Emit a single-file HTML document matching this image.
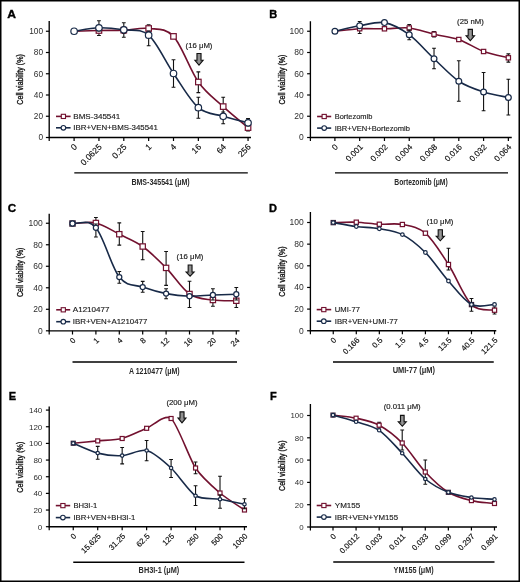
<!DOCTYPE html>
<html><head><meta charset="utf-8"><title>Cell viability</title>
<style>html,body{margin:0;padding:0;background:#fff;width:520px;height:582px;overflow:hidden}svg{display:block;opacity:0.999;will-change:transform;font-family:"Liberation Sans",sans-serif}</style>
</head><body>
<svg width="520" height="582" viewBox="0 0 520 582" font-family='&quot;Liberation Sans&quot;, sans-serif'>
<defs><linearGradient id="ag" x1="0" y1="0" x2="1" y2="0"><stop offset="0" stop-color="#4a4a4a"/><stop offset="0.5" stop-color="#9a9a9a"/><stop offset="1" stop-color="#4a4a4a"/></linearGradient></defs><rect width="520" height="582" fill="#fff"/>
<text x="7.2" y="18.4" font-size="11" textLength="8.7" lengthAdjust="spacingAndGlyphs" font-weight="bold" fill="#000" stroke="#000" stroke-width="0.35">A</text>
<path d="M49.2,21V137.5H251" stroke="#000" stroke-width="1.35" fill="none"/>
<path d="M45.9,137.5H49.2" stroke="#000" stroke-width="1.2"/>
<text x="43" y="140.3" font-size="8.3" text-anchor="end" fill="#2e2e2e">0</text>
<path d="M45.9,116.25H49.2" stroke="#000" stroke-width="1.2"/>
<text x="43" y="119.05" font-size="8.3" text-anchor="end" fill="#2e2e2e">20</text>
<path d="M45.9,95H49.2" stroke="#000" stroke-width="1.2"/>
<text x="43" y="97.8" font-size="8.3" text-anchor="end" fill="#2e2e2e">40</text>
<path d="M45.9,73.75H49.2" stroke="#000" stroke-width="1.2"/>
<text x="43" y="76.55" font-size="8.3" text-anchor="end" fill="#2e2e2e">60</text>
<path d="M45.9,52.5H49.2" stroke="#000" stroke-width="1.2"/>
<text x="43" y="55.3" font-size="8.3" text-anchor="end" fill="#2e2e2e">80</text>
<path d="M45.9,31.25H49.2" stroke="#000" stroke-width="1.2"/>
<text x="43" y="34.05" font-size="8.3" text-anchor="end" fill="#2e2e2e">100</text>
<text x="0" y="0" font-size="8.5" text-anchor="middle" textLength="50.5" lengthAdjust="spacingAndGlyphs" transform="translate(23.3,79.4) rotate(-90)" stroke="#222" stroke-width="0.35">Cell viability (%)</text>
<path d="M49.2,137.5v3.6M74.1,137.5v3.6M98.95,137.5v3.6M123.8,137.5v3.6M148.65,137.5v3.6M173.5,137.5v3.6M198.35,137.5v3.6M223.2,137.5v3.6M248.05,137.5v3.6" stroke="#000" stroke-width="1.2"/>
<text x="0" y="0" font-size="8.5" text-anchor="end" transform="translate(77.5,147.5) rotate(-45)" stroke="#222" stroke-width="0.15">0</text>
<text x="0" y="0" font-size="8.5" text-anchor="end" transform="translate(102.35,147.5) rotate(-45)" stroke="#222" stroke-width="0.15">0.0625</text>
<text x="0" y="0" font-size="8.5" text-anchor="end" transform="translate(127.2,147.5) rotate(-45)" stroke="#222" stroke-width="0.15">0.25</text>
<text x="0" y="0" font-size="8.5" text-anchor="end" transform="translate(152.05,147.5) rotate(-45)" stroke="#222" stroke-width="0.15">1</text>
<text x="0" y="0" font-size="8.5" text-anchor="end" transform="translate(176.9,147.5) rotate(-45)" stroke="#222" stroke-width="0.15">4</text>
<text x="0" y="0" font-size="8.5" text-anchor="end" transform="translate(201.75,147.5) rotate(-45)" stroke="#222" stroke-width="0.15">16</text>
<text x="0" y="0" font-size="8.5" text-anchor="end" transform="translate(226.6,147.5) rotate(-45)" stroke="#222" stroke-width="0.15">64</text>
<text x="0" y="0" font-size="8.5" text-anchor="end" transform="translate(251.45,147.5) rotate(-45)" stroke="#222" stroke-width="0.15">256</text>
<path d="M74.3,172.9H247.8" stroke="#000" stroke-width="1.4"/>
<text x="160.55" y="185.2" font-size="9.5" text-anchor="middle" textLength="58.3" lengthAdjust="spacingAndGlyphs" font-weight="bold" fill="#2a2a2a">BMS-345541 (μM)</text>
<text x="199" y="47.7" font-size="6.6" text-anchor="middle" textLength="26.9" lengthAdjust="spacingAndGlyphs" fill="#1a1a1a" stroke="#222" stroke-width="0.15">(16 μM)</text>
<path d="M196.95,53.4H201.05V60.3H203.15L199,65.1L194.85,60.3H196.95Z" fill="url(#ag)" stroke="#111" stroke-width="1.05" stroke-linejoin="miter"/>
<path d="M56,116.4H70.6" stroke="#72112f" stroke-width="1.6"/>
<rect x="61.3" y="114.3" width="4.2" height="4.2" fill="#fff" stroke="#72112f" stroke-width="1.1"/>
<text x="73.3" y="118.8" font-size="8" textLength="47" lengthAdjust="spacingAndGlyphs" fill="#1a1a1a" stroke="#1a1a1a" stroke-width="0.15">BMS-345541</text>
<path d="M56,127.8H70.6" stroke="#182a48" stroke-width="1.6"/>
<circle cx="63.4" cy="127.8" r="2.3" fill="#fff" stroke="#182a48" stroke-width="1.1"/>
<text x="73.3" y="130.2" font-size="8" textLength="84.6" lengthAdjust="spacingAndGlyphs" fill="#1a1a1a" stroke="#1a1a1a" stroke-width="0.15">IBR+VEN+BMS-345541</text>
<path d="M74.1,31.25 C78.24,31.12 90.67,30.68 98.95,30.5 C107.23,30.32 115.52,30.53 123.8,30.2 C132.08,29.87 140.37,27.47 148.65,28.5 C156.93,29.53 165.22,27.48 173.5,36.4 C181.78,45.32 190.07,70.3 198.35,82 C206.63,93.7 214.92,99 223.2,106.6 C231.48,114.2 243.91,124.1 248.05,127.6" stroke="#72112f" stroke-width="1.6" fill="none"/>
<path d="M98.95,27.5V35.5M97.05,27.5h3.8M97.05,35.5h3.8" stroke="#111" stroke-width="1.1" fill="none"/>
<path d="M123.8,27V33.5M121.9,27h3.8M121.9,33.5h3.8" stroke="#111" stroke-width="1.1" fill="none"/>
<path d="M148.65,24.7V32M146.75,24.7h3.8M146.75,32h3.8" stroke="#111" stroke-width="1.1" fill="none"/>
<path d="M198.35,71.9V92.6M196.45,71.9h3.8M196.45,92.6h3.8" stroke="#111" stroke-width="1.1" fill="none"/>
<path d="M223.2,97.3V116M221.3,97.3h3.8M221.3,116h3.8" stroke="#111" stroke-width="1.1" fill="none"/>
<path d="M248.05,118.5V131M246.15,118.5h3.8M246.15,131h3.8" stroke="#111" stroke-width="1.1" fill="none"/>
<rect x="96.2" y="27.75" width="5.5" height="5.5" fill="#fff" stroke="#72112f" stroke-width="1.2"/>
<rect x="121.05" y="27.45" width="5.5" height="5.5" fill="#fff" stroke="#72112f" stroke-width="1.2"/>
<rect x="145.9" y="25.75" width="5.5" height="5.5" fill="#fff" stroke="#72112f" stroke-width="1.2"/>
<rect x="170.75" y="33.65" width="5.5" height="5.5" fill="#fff" stroke="#72112f" stroke-width="1.2"/>
<rect x="195.6" y="79.25" width="5.5" height="5.5" fill="#fff" stroke="#72112f" stroke-width="1.2"/>
<rect x="220.45" y="103.85" width="5.5" height="5.5" fill="#fff" stroke="#72112f" stroke-width="1.2"/>
<rect x="245.3" y="124.85" width="5.5" height="5.5" fill="#fff" stroke="#72112f" stroke-width="1.2"/>
<path d="M74.1,31.25 C78.24,30.68 90.67,28.04 98.95,27.8 C107.23,27.56 115.52,28.57 123.8,29.8 C132.08,31.03 140.37,27.92 148.65,35.2 C156.93,42.48 165.22,61.42 173.5,73.5 C181.78,85.58 190.07,100.57 198.35,107.7 C206.63,114.83 214.92,113.78 223.2,116.3 C231.48,118.82 243.91,121.72 248.05,122.8" stroke="#182a48" stroke-width="1.6" fill="none"/>
<path d="M98.95,20.7V31M97.05,20.7h3.8M97.05,31h3.8" stroke="#111" stroke-width="1.1" fill="none"/>
<path d="M123.8,22.8V37.2M121.9,22.8h3.8M121.9,37.2h3.8" stroke="#111" stroke-width="1.1" fill="none"/>
<path d="M148.65,31V45.7M146.75,31h3.8M146.75,45.7h3.8" stroke="#111" stroke-width="1.1" fill="none"/>
<path d="M173.5,59.8V87.3M171.6,59.8h3.8M171.6,87.3h3.8" stroke="#111" stroke-width="1.1" fill="none"/>
<path d="M198.35,97.3V118.2M196.45,97.3h3.8M196.45,118.2h3.8" stroke="#111" stroke-width="1.1" fill="none"/>
<path d="M223.2,112V123.7M221.3,112h3.8M221.3,123.7h3.8" stroke="#111" stroke-width="1.1" fill="none"/>
<path d="M248.05,119V126M246.15,119h3.8M246.15,126h3.8" stroke="#111" stroke-width="1.1" fill="none"/>
<circle cx="74.1" cy="31.25" r="3.25" fill="#fff" stroke="#182a48" stroke-width="1.2"/>
<circle cx="98.95" cy="27.8" r="3.25" fill="#fff" stroke="#182a48" stroke-width="1.2"/>
<circle cx="123.8" cy="29.8" r="3.25" fill="#fff" stroke="#182a48" stroke-width="1.2"/>
<circle cx="148.65" cy="35.2" r="3.25" fill="#fff" stroke="#182a48" stroke-width="1.2"/>
<circle cx="173.5" cy="73.5" r="3.25" fill="#fff" stroke="#182a48" stroke-width="1.2"/>
<circle cx="198.35" cy="107.7" r="3.25" fill="#fff" stroke="#182a48" stroke-width="1.2"/>
<circle cx="223.2" cy="116.3" r="3.25" fill="#fff" stroke="#182a48" stroke-width="1.2"/>
<circle cx="248.05" cy="122.8" r="3.25" fill="#fff" stroke="#182a48" stroke-width="1.2"/>
<text x="269.3" y="18.4" font-size="11" font-weight="bold" fill="#000" stroke="#000" stroke-width="0.35">B</text>
<path d="M310.4,21.2V137.5H511.75" stroke="#000" stroke-width="1.35" fill="none"/>
<path d="M307.1,137.5H310.4" stroke="#000" stroke-width="1.2"/>
<text x="303.75" y="140.3" font-size="8.5" text-anchor="end" fill="#2e2e2e">0</text>
<path d="M307.1,116.25H310.4" stroke="#000" stroke-width="1.2"/>
<text x="303.75" y="119.05" font-size="8.5" text-anchor="end" fill="#2e2e2e">20</text>
<path d="M307.1,95H310.4" stroke="#000" stroke-width="1.2"/>
<text x="303.75" y="97.8" font-size="8.5" text-anchor="end" fill="#2e2e2e">40</text>
<path d="M307.1,73.75H310.4" stroke="#000" stroke-width="1.2"/>
<text x="303.75" y="76.55" font-size="8.5" text-anchor="end" fill="#2e2e2e">60</text>
<path d="M307.1,52.5H310.4" stroke="#000" stroke-width="1.2"/>
<text x="303.75" y="55.3" font-size="8.5" text-anchor="end" fill="#2e2e2e">80</text>
<path d="M307.1,31.25H310.4" stroke="#000" stroke-width="1.2"/>
<text x="303.75" y="34.05" font-size="8.5" text-anchor="end" fill="#2e2e2e">100</text>
<text x="0" y="0" font-size="8.5" text-anchor="middle" textLength="50" lengthAdjust="spacingAndGlyphs" transform="translate(284.5,79.6) rotate(-90)" stroke="#222" stroke-width="0.35">Cell viability (%)</text>
<path d="M310.4,137.5v3.6M334.9,137.5v3.6M359.68,137.5v3.6M384.46,137.5v3.6M409.24,137.5v3.6M434.02,137.5v3.6M458.8,137.5v3.6M483.58,137.5v3.6M508.36,137.5v3.6" stroke="#000" stroke-width="1.2"/>
<text x="0" y="0" font-size="8.2" text-anchor="end" transform="translate(338.6,147.5) rotate(-45)" stroke="#222" stroke-width="0.15">0</text>
<text x="0" y="0" font-size="8.2" text-anchor="end" transform="translate(363.38,147.5) rotate(-45)" stroke="#222" stroke-width="0.15">0.001</text>
<text x="0" y="0" font-size="8.2" text-anchor="end" transform="translate(388.16,147.5) rotate(-45)" stroke="#222" stroke-width="0.15">0.002</text>
<text x="0" y="0" font-size="8.2" text-anchor="end" transform="translate(412.94,147.5) rotate(-45)" stroke="#222" stroke-width="0.15">0.004</text>
<text x="0" y="0" font-size="8.2" text-anchor="end" transform="translate(437.72,147.5) rotate(-45)" stroke="#222" stroke-width="0.15">0.008</text>
<text x="0" y="0" font-size="8.2" text-anchor="end" transform="translate(462.5,147.5) rotate(-45)" stroke="#222" stroke-width="0.15">0.016</text>
<text x="0" y="0" font-size="8.2" text-anchor="end" transform="translate(487.28,147.5) rotate(-45)" stroke="#222" stroke-width="0.15">0.032</text>
<text x="0" y="0" font-size="8.2" text-anchor="end" transform="translate(512.06,147.5) rotate(-45)" stroke="#222" stroke-width="0.15">0.064</text>
<path d="M335,172.9H508" stroke="#000" stroke-width="1.4"/>
<text x="421" y="184.8" font-size="9.5" text-anchor="middle" textLength="53.5" lengthAdjust="spacingAndGlyphs" font-weight="bold" fill="#2a2a2a">Bortezomib (μM)</text>
<text x="470.4" y="23.6" font-size="6.6" text-anchor="middle" textLength="26.7" lengthAdjust="spacingAndGlyphs" fill="#1a1a1a" stroke="#222" stroke-width="0.15">(25 nM)</text>
<path d="M468.15,29.35H472.45V35.8H474.55L470.3,40.7L466.05,35.8H468.15Z" fill="url(#ag)" stroke="#111" stroke-width="1.05" stroke-linejoin="miter"/>
<path d="M317.1,116.5H331.2" stroke="#72112f" stroke-width="1.6"/>
<rect x="322.1" y="114.4" width="4.2" height="4.2" fill="#fff" stroke="#72112f" stroke-width="1.1"/>
<text x="334.7" y="118.9" font-size="8" textLength="37.7" lengthAdjust="spacingAndGlyphs" fill="#1a1a1a" stroke="#1a1a1a" stroke-width="0.15">Bortezomib</text>
<path d="M317.1,128.1H331.2" stroke="#182a48" stroke-width="1.6"/>
<circle cx="324.2" cy="128.1" r="2.3" fill="#fff" stroke="#182a48" stroke-width="1.1"/>
<text x="334.7" y="130.5" font-size="8" textLength="75.2" lengthAdjust="spacingAndGlyphs" fill="#1a1a1a" stroke="#1a1a1a" stroke-width="0.15">IBR+VEN+Bortezomib</text>
<path d="M334.9,31.25 C338.41,30.89 352.66,29.05 359.68,28.7 C366.7,28.35 377.44,28.9 384.46,28.8 C391.48,28.7 402.22,27.23 409.24,28 C416.26,28.77 427,32.62 434.02,34.25 C441.04,35.88 451.78,37.06 458.8,39.5 C465.82,41.94 476.56,48.91 483.58,51.5 C490.6,54.09 504.85,56.91 508.36,57.8" stroke="#72112f" stroke-width="1.6" fill="none"/>
<path d="M359.68,21.5V33.5M357.78,21.5h3.8M357.78,33.5h3.8" stroke="#111" stroke-width="1.1" fill="none"/>
<path d="M409.24,24.5V31M407.34,24.5h3.8M407.34,31h3.8" stroke="#111" stroke-width="1.1" fill="none"/>
<path d="M434.02,31.5V37M432.12,31.5h3.8M432.12,37h3.8" stroke="#111" stroke-width="1.1" fill="none"/>
<path d="M508.36,53.9V62.1M506.46,53.9h3.8M506.46,62.1h3.8" stroke="#111" stroke-width="1.1" fill="none"/>
<rect x="357.53" y="26.55" width="4.3" height="4.3" fill="#fff" stroke="#72112f" stroke-width="1.2"/>
<rect x="382.31" y="26.65" width="4.3" height="4.3" fill="#fff" stroke="#72112f" stroke-width="1.2"/>
<rect x="407.09" y="25.85" width="4.3" height="4.3" fill="#fff" stroke="#72112f" stroke-width="1.2"/>
<rect x="431.87" y="32.1" width="4.3" height="4.3" fill="#fff" stroke="#72112f" stroke-width="1.2"/>
<rect x="456.65" y="37.35" width="4.3" height="4.3" fill="#fff" stroke="#72112f" stroke-width="1.2"/>
<rect x="481.43" y="49.35" width="4.3" height="4.3" fill="#fff" stroke="#72112f" stroke-width="1.2"/>
<rect x="506.21" y="55.65" width="4.3" height="4.3" fill="#fff" stroke="#72112f" stroke-width="1.2"/>
<path d="M334.9,31.25 C338.41,30.48 352.66,27.03 359.68,25.8 C366.7,24.57 377.44,21.34 384.46,22.6 C391.48,23.86 402.22,29.58 409.24,34.7 C416.26,39.82 427,52.16 434.02,58.75 C441.04,65.34 451.78,76.54 458.8,81.25 C465.82,85.96 476.56,89.7 483.58,92 C490.6,94.3 504.85,96.72 508.36,97.5" stroke="#182a48" stroke-width="1.6" fill="none"/>
<path d="M409.24,30V39.7M407.34,30h3.8M407.34,39.7h3.8" stroke="#111" stroke-width="1.1" fill="none"/>
<path d="M434.02,48.25V68.75M432.12,48.25h3.8M432.12,68.75h3.8" stroke="#111" stroke-width="1.1" fill="none"/>
<path d="M458.8,60.75V101.25M456.9,60.75h3.8M456.9,101.25h3.8" stroke="#111" stroke-width="1.1" fill="none"/>
<path d="M483.58,72.5V110.75M481.68,72.5h3.8M481.68,110.75h3.8" stroke="#111" stroke-width="1.1" fill="none"/>
<path d="M508.36,79.25V115M506.46,79.25h3.8M506.46,115h3.8" stroke="#111" stroke-width="1.1" fill="none"/>
<circle cx="334.9" cy="31.25" r="2.9" fill="#fff" stroke="#182a48" stroke-width="1.2"/>
<circle cx="359.68" cy="25.8" r="2.9" fill="#fff" stroke="#182a48" stroke-width="1.2"/>
<circle cx="384.46" cy="22.6" r="2.9" fill="#fff" stroke="#182a48" stroke-width="1.2"/>
<circle cx="409.24" cy="34.7" r="2.9" fill="#fff" stroke="#182a48" stroke-width="1.2"/>
<circle cx="434.02" cy="58.75" r="2.9" fill="#fff" stroke="#182a48" stroke-width="1.2"/>
<circle cx="458.8" cy="81.25" r="2.9" fill="#fff" stroke="#182a48" stroke-width="1.2"/>
<circle cx="483.58" cy="92" r="2.9" fill="#fff" stroke="#182a48" stroke-width="1.2"/>
<circle cx="508.36" cy="97.5" r="2.9" fill="#fff" stroke="#182a48" stroke-width="1.2"/>
<text x="7.7" y="211.7" font-size="11" textLength="8.4" lengthAdjust="spacingAndGlyphs" font-weight="bold" fill="#000" stroke="#000" stroke-width="0.35">C</text>
<path d="M49.2,213.75V330.8H239.5" stroke="#000" stroke-width="1.35" fill="none"/>
<path d="M45.9,330.8H49.2" stroke="#000" stroke-width="1.2"/>
<text x="42.7" y="333.6" font-size="8.5" text-anchor="end" fill="#2e2e2e">0</text>
<path d="M45.9,309.29H49.2" stroke="#000" stroke-width="1.2"/>
<text x="42.7" y="312.09" font-size="8.5" text-anchor="end" fill="#2e2e2e">20</text>
<path d="M45.9,287.78H49.2" stroke="#000" stroke-width="1.2"/>
<text x="42.7" y="290.58" font-size="8.5" text-anchor="end" fill="#2e2e2e">40</text>
<path d="M45.9,266.27H49.2" stroke="#000" stroke-width="1.2"/>
<text x="42.7" y="269.07" font-size="8.5" text-anchor="end" fill="#2e2e2e">60</text>
<path d="M45.9,244.76H49.2" stroke="#000" stroke-width="1.2"/>
<text x="42.7" y="247.56" font-size="8.5" text-anchor="end" fill="#2e2e2e">80</text>
<path d="M45.9,223.25H49.2" stroke="#000" stroke-width="1.2"/>
<text x="42.7" y="226.05" font-size="8.5" text-anchor="end" fill="#2e2e2e">100</text>
<text x="0" y="0" font-size="8.5" text-anchor="middle" textLength="49.4" lengthAdjust="spacingAndGlyphs" transform="translate(23.3,272.3) rotate(-90)" stroke="#222" stroke-width="0.35">Cell viability (%)</text>
<path d="M49.2,330.8v3.6M72.5,330.8v3.6M95.9,330.8v3.6M119.3,330.8v3.6M142.7,330.8v3.6M166.1,330.8v3.6M189.5,330.8v3.6M212.9,330.8v3.6M236.3,330.8v3.6" stroke="#000" stroke-width="1.2"/>
<text x="0" y="0" font-size="7.9" text-anchor="end" transform="translate(76.2,340.8) rotate(-45)" stroke="#222" stroke-width="0.15">0</text>
<text x="0" y="0" font-size="7.9" text-anchor="end" transform="translate(99.6,340.8) rotate(-45)" stroke="#222" stroke-width="0.15">1</text>
<text x="0" y="0" font-size="7.9" text-anchor="end" transform="translate(123,340.8) rotate(-45)" stroke="#222" stroke-width="0.15">4</text>
<text x="0" y="0" font-size="7.9" text-anchor="end" transform="translate(146.4,340.8) rotate(-45)" stroke="#222" stroke-width="0.15">8</text>
<text x="0" y="0" font-size="7.9" text-anchor="end" transform="translate(169.8,340.8) rotate(-45)" stroke="#222" stroke-width="0.15">12</text>
<text x="0" y="0" font-size="7.9" text-anchor="end" transform="translate(193.2,340.8) rotate(-45)" stroke="#222" stroke-width="0.15">16</text>
<text x="0" y="0" font-size="7.9" text-anchor="end" transform="translate(216.6,340.8) rotate(-45)" stroke="#222" stroke-width="0.15">20</text>
<text x="0" y="0" font-size="7.9" text-anchor="end" transform="translate(240,340.8) rotate(-45)" stroke="#222" stroke-width="0.15">24</text>
<path d="M72.5,362H237" stroke="#000" stroke-width="1.4"/>
<text x="154.3" y="373.5" font-size="8.7" text-anchor="middle" textLength="50.8" lengthAdjust="spacingAndGlyphs" font-weight="bold" fill="#2a2a2a">A 1210477 (μM)</text>
<text x="190" y="258.5" font-size="6.6" text-anchor="middle" textLength="26.9" lengthAdjust="spacingAndGlyphs" fill="#1a1a1a" stroke="#222" stroke-width="0.15">(16 μM)</text>
<path d="M188.15,264.95H192.05V272H194.15L190.1,276.2L186.05,272H188.15Z" fill="url(#ag)" stroke="#111" stroke-width="1.05" stroke-linejoin="miter"/>
<path d="M56.2,309.8H70.2" stroke="#72112f" stroke-width="1.6"/>
<rect x="61.2" y="307.7" width="4.2" height="4.2" fill="#fff" stroke="#72112f" stroke-width="1.1"/>
<text x="72.8" y="312.2" font-size="8" textLength="36.7" lengthAdjust="spacingAndGlyphs" fill="#1a1a1a" stroke="#1a1a1a" stroke-width="0.15">A1210477</text>
<path d="M56.2,321.7H70.2" stroke="#182a48" stroke-width="1.6"/>
<circle cx="63.3" cy="321.7" r="2.3" fill="#fff" stroke="#182a48" stroke-width="1.1"/>
<text x="72.8" y="324.1" font-size="8" textLength="74.6" lengthAdjust="spacingAndGlyphs" fill="#1a1a1a" stroke="#1a1a1a" stroke-width="0.15">IBR+VEN+A1210477</text>
<path d="M72.5,223.5 C83.14,223.5 88.1,221.22 95.9,223 C103.7,224.78 111.5,230.28 119.3,234.2 C127.1,238.12 134.9,240.88 142.7,246.5 C150.5,252.12 158.3,259.98 166.1,267.9 C173.9,275.82 181.7,288.65 189.5,294 C197.3,299.35 205.1,298.88 212.9,300 C220.7,301.12 232.4,300.62 236.3,300.75" stroke="#72112f" stroke-width="1.6" fill="none"/>
<path d="M95.9,217.5V224M94,217.5h3.8M94,224h3.8" stroke="#111" stroke-width="1.1" fill="none"/>
<path d="M119.3,222.9V245.1M117.4,222.9h3.8M117.4,245.1h3.8" stroke="#111" stroke-width="1.1" fill="none"/>
<path d="M142.7,231.5V259.8M140.8,231.5h3.8M140.8,259.8h3.8" stroke="#111" stroke-width="1.1" fill="none"/>
<path d="M166.1,251.5V285.4M164.2,251.5h3.8M164.2,285.4h3.8" stroke="#111" stroke-width="1.1" fill="none"/>
<path d="M189.5,281.25V307.5M187.6,281.25h3.8M187.6,307.5h3.8" stroke="#111" stroke-width="1.1" fill="none"/>
<path d="M212.9,294V306.25M211,294h3.8M211,306.25h3.8" stroke="#111" stroke-width="1.1" fill="none"/>
<path d="M236.3,294V307.5M234.4,294h3.8M234.4,307.5h3.8" stroke="#111" stroke-width="1.1" fill="none"/>
<rect x="69.85" y="220.85" width="5.3" height="5.3" fill="#fff" stroke="#3a1c34" stroke-width="1.2"/>
<rect x="93.25" y="220.35" width="5.3" height="5.3" fill="#fff" stroke="#72112f" stroke-width="1.2"/>
<rect x="116.65" y="231.55" width="5.3" height="5.3" fill="#fff" stroke="#72112f" stroke-width="1.2"/>
<rect x="140.05" y="243.85" width="5.3" height="5.3" fill="#fff" stroke="#72112f" stroke-width="1.2"/>
<rect x="163.45" y="265.25" width="5.3" height="5.3" fill="#fff" stroke="#72112f" stroke-width="1.2"/>
<rect x="186.85" y="291.35" width="5.3" height="5.3" fill="#fff" stroke="#72112f" stroke-width="1.2"/>
<rect x="210.25" y="297.35" width="5.3" height="5.3" fill="#fff" stroke="#72112f" stroke-width="1.2"/>
<rect x="233.65" y="298.1" width="5.3" height="5.3" fill="#fff" stroke="#72112f" stroke-width="1.2"/>
<path d="M72.5,223.5 C83.14,223.5 88.1,218.87 95.9,227.8 C103.7,236.73 111.5,267.22 119.3,277.1 C127.1,286.98 134.9,284.35 142.7,287.1 C150.5,289.85 158.3,292.08 166.1,293.6 C173.9,295.12 181.7,295.97 189.5,296.2 C197.3,296.43 205.1,295.32 212.9,295 C220.7,294.68 232.4,294.38 236.3,294.25" stroke="#182a48" stroke-width="1.6" fill="none"/>
<path d="M95.9,224V237M94,224h3.8M94,237h3.8" stroke="#111" stroke-width="1.1" fill="none"/>
<path d="M119.3,271.5V283.2M117.4,271.5h3.8M117.4,283.2h3.8" stroke="#111" stroke-width="1.1" fill="none"/>
<path d="M142.7,281.4V292.2M140.8,281.4h3.8M140.8,292.2h3.8" stroke="#111" stroke-width="1.1" fill="none"/>
<path d="M166.1,288.75V298.75M164.2,288.75h3.8M164.2,298.75h3.8" stroke="#111" stroke-width="1.1" fill="none"/>
<path d="M212.9,288.75V300M211,288.75h3.8M211,300h3.8" stroke="#111" stroke-width="1.1" fill="none"/>
<path d="M236.3,287.5V300M234.4,287.5h3.8M234.4,300h3.8" stroke="#111" stroke-width="1.1" fill="none"/>
<circle cx="72.5" cy="223.5" r="2.55" fill="#fff" stroke="#182a48" stroke-width="1.2"/>
<circle cx="95.9" cy="227.8" r="2.55" fill="#fff" stroke="#182a48" stroke-width="1.2"/>
<circle cx="119.3" cy="277.1" r="2.55" fill="#fff" stroke="#182a48" stroke-width="1.2"/>
<circle cx="142.7" cy="287.1" r="2.55" fill="#fff" stroke="#182a48" stroke-width="1.2"/>
<circle cx="166.1" cy="293.6" r="2.55" fill="#fff" stroke="#182a48" stroke-width="1.2"/>
<circle cx="189.5" cy="296.2" r="2.55" fill="#fff" stroke="#182a48" stroke-width="1.2"/>
<circle cx="212.9" cy="295" r="2.55" fill="#fff" stroke="#182a48" stroke-width="1.2"/>
<circle cx="236.3" cy="294.25" r="2.55" fill="#fff" stroke="#182a48" stroke-width="1.2"/>
<text x="268.9" y="212" font-size="11" font-weight="bold" fill="#000" stroke="#000" stroke-width="0.35">D</text>
<path d="M310.4,211.9V330.75H496.25" stroke="#000" stroke-width="1.35" fill="none"/>
<path d="M307.1,330.75H310.4" stroke="#000" stroke-width="1.2"/>
<text x="303.75" y="333.55" font-size="8.5" text-anchor="end" fill="#2e2e2e">0</text>
<path d="M307.1,309.1H310.4" stroke="#000" stroke-width="1.2"/>
<text x="303.75" y="311.9" font-size="8.5" text-anchor="end" fill="#2e2e2e">20</text>
<path d="M307.1,287.45H310.4" stroke="#000" stroke-width="1.2"/>
<text x="303.75" y="290.25" font-size="8.5" text-anchor="end" fill="#2e2e2e">40</text>
<path d="M307.1,265.8H310.4" stroke="#000" stroke-width="1.2"/>
<text x="303.75" y="268.6" font-size="8.5" text-anchor="end" fill="#2e2e2e">60</text>
<path d="M307.1,244.15H310.4" stroke="#000" stroke-width="1.2"/>
<text x="303.75" y="246.95" font-size="8.5" text-anchor="end" fill="#2e2e2e">80</text>
<path d="M307.1,222.5H310.4" stroke="#000" stroke-width="1.2"/>
<text x="303.75" y="225.3" font-size="8.5" text-anchor="end" fill="#2e2e2e">100</text>
<text x="0" y="0" font-size="8.5" text-anchor="middle" textLength="50.5" lengthAdjust="spacingAndGlyphs" transform="translate(284.8,271.5) rotate(-90)" stroke="#222" stroke-width="0.35">Cell viability (%)</text>
<path d="M310.4,330.75v3.6M333.25,330.75v3.6M356.29,330.75v3.6M379.33,330.75v3.6M402.37,330.75v3.6M425.41,330.75v3.6M448.45,330.75v3.6M471.49,330.75v3.6M494.53,330.75v3.6" stroke="#000" stroke-width="1.2"/>
<text x="0" y="0" font-size="7.9" text-anchor="end" transform="translate(336.95,340.75) rotate(-45)" stroke="#222" stroke-width="0.15">0</text>
<text x="0" y="0" font-size="7.9" text-anchor="end" transform="translate(359.99,340.75) rotate(-45)" stroke="#222" stroke-width="0.15">0.166</text>
<text x="0" y="0" font-size="7.9" text-anchor="end" transform="translate(383.03,340.75) rotate(-45)" stroke="#222" stroke-width="0.15">0.5</text>
<text x="0" y="0" font-size="7.9" text-anchor="end" transform="translate(406.07,340.75) rotate(-45)" stroke="#222" stroke-width="0.15">1.5</text>
<text x="0" y="0" font-size="7.9" text-anchor="end" transform="translate(429.11,340.75) rotate(-45)" stroke="#222" stroke-width="0.15">4.5</text>
<text x="0" y="0" font-size="7.9" text-anchor="end" transform="translate(452.15,340.75) rotate(-45)" stroke="#222" stroke-width="0.15">13.5</text>
<text x="0" y="0" font-size="7.9" text-anchor="end" transform="translate(475.19,340.75) rotate(-45)" stroke="#222" stroke-width="0.15">40.5</text>
<text x="0" y="0" font-size="7.9" text-anchor="end" transform="translate(498.23,340.75) rotate(-45)" stroke="#222" stroke-width="0.15">121.5</text>
<path d="M333,362H493.75" stroke="#000" stroke-width="1.4"/>
<text x="413.85" y="373.2" font-size="8.7" text-anchor="middle" textLength="42.3" lengthAdjust="spacingAndGlyphs" font-weight="bold" fill="#2a2a2a">UMI-77 (μM)</text>
<text x="440" y="223.5" font-size="6.6" text-anchor="middle" textLength="26.9" lengthAdjust="spacingAndGlyphs" fill="#1a1a1a" stroke="#222" stroke-width="0.15">(10 μM)</text>
<path d="M438.15,229.75H442.45V236.2H444.45L440.3,240.8L436.15,236.2H438.15Z" fill="url(#ag)" stroke="#111" stroke-width="1.05" stroke-linejoin="miter"/>
<path d="M316.7,309.6H331.2" stroke="#72112f" stroke-width="1.6"/>
<rect x="321.7" y="307.5" width="4.2" height="4.2" fill="#fff" stroke="#72112f" stroke-width="1.1"/>
<text x="334.8" y="312" font-size="8" textLength="25.1" lengthAdjust="spacingAndGlyphs" fill="#1a1a1a" stroke="#1a1a1a" stroke-width="0.15">UMI-77</text>
<path d="M316.7,321.2H331.2" stroke="#182a48" stroke-width="1.6"/>
<circle cx="323.8" cy="321.2" r="2.3" fill="#fff" stroke="#182a48" stroke-width="1.1"/>
<text x="334.8" y="323.6" font-size="8" textLength="63.1" lengthAdjust="spacingAndGlyphs" fill="#1a1a1a" stroke="#1a1a1a" stroke-width="0.15">IBR+VEN+UMI-77</text>
<path d="M333.25,222.6 C337.09,222.53 348.61,221.92 356.29,222.2 C363.97,222.47 371.65,223.87 379.33,224.25 C387.01,224.63 394.69,223.01 402.37,224.5 C410.05,225.99 417.73,226.53 425.41,233.2 C433.09,239.87 440.77,252.6 448.45,264.5 C456.13,276.4 463.81,296.98 471.49,304.6 C479.17,312.22 490.69,309.27 494.53,310.2" stroke="#72112f" stroke-width="1.6" fill="none"/>
<path d="M448.45,248.25V270M446.55,248.25h3.8M446.55,270h3.8" stroke="#111" stroke-width="1.1" fill="none"/>
<path d="M471.49,298.5V311.2M469.59,298.5h3.8M469.59,311.2h3.8" stroke="#111" stroke-width="1.1" fill="none"/>
<path d="M494.53,307V314M492.63,307h3.8M492.63,314h3.8" stroke="#111" stroke-width="1.1" fill="none"/>
<rect x="331.15" y="220.5" width="4.2" height="4.2" fill="#fff" stroke="#3a1c34" stroke-width="1.2"/>
<rect x="354.19" y="220.1" width="4.2" height="4.2" fill="#fff" stroke="#72112f" stroke-width="1.2"/>
<rect x="377.23" y="222.15" width="4.2" height="4.2" fill="#fff" stroke="#72112f" stroke-width="1.2"/>
<rect x="400.27" y="222.4" width="4.2" height="4.2" fill="#fff" stroke="#72112f" stroke-width="1.2"/>
<rect x="423.31" y="231.1" width="4.2" height="4.2" fill="#fff" stroke="#72112f" stroke-width="1.2"/>
<rect x="446.35" y="262.4" width="4.2" height="4.2" fill="#fff" stroke="#72112f" stroke-width="1.2"/>
<rect x="469.39" y="302.5" width="4.2" height="4.2" fill="#fff" stroke="#3a1c34" stroke-width="1.2"/>
<rect x="492.43" y="308.1" width="4.2" height="4.2" fill="#fff" stroke="#72112f" stroke-width="1.2"/>
<path d="M333.25,222.6 C337.09,223.25 348.61,225.47 356.29,226.5 C363.97,227.53 371.65,227.4 379.33,228.75 C387.01,230.1 394.69,230.64 402.37,234.6 C410.05,238.56 417.73,244.77 425.41,252.5 C433.09,260.23 440.77,272.33 448.45,281 C456.13,289.67 463.81,300.6 471.49,304.5 C479.17,308.4 490.69,304.42 494.53,304.4" stroke="#182a48" stroke-width="1.6" fill="none"/>
<circle cx="333.25" cy="222.6" r="1.8" fill="#fff" stroke="#182a48" stroke-width="1.2"/>
<circle cx="356.29" cy="226.5" r="1.8" fill="#fff" stroke="#182a48" stroke-width="1.2"/>
<circle cx="379.33" cy="228.75" r="1.8" fill="#fff" stroke="#182a48" stroke-width="1.2"/>
<circle cx="402.37" cy="234.6" r="1.8" fill="#fff" stroke="#182a48" stroke-width="1.2"/>
<circle cx="425.41" cy="252.5" r="1.8" fill="#fff" stroke="#182a48" stroke-width="1.2"/>
<circle cx="448.45" cy="281" r="1.8" fill="#fff" stroke="#182a48" stroke-width="1.2"/>
<circle cx="471.49" cy="304.5" r="1.8" fill="#fff" stroke="#182a48" stroke-width="1.2"/>
<circle cx="494.53" cy="304.4" r="1.8" fill="#fff" stroke="#182a48" stroke-width="1.2"/>
<text x="8.7" y="400" font-size="11" font-weight="bold" fill="#000" stroke="#000" stroke-width="0.35">E</text>
<path d="M49.2,406.6V526.7H247" stroke="#000" stroke-width="1.35" fill="none"/>
<path d="M45.9,526.7H49.2" stroke="#000" stroke-width="1.2"/>
<text x="42.3" y="529.5" font-size="8" text-anchor="end" fill="#2e2e2e">0</text>
<path d="M45.9,510.04H49.2" stroke="#000" stroke-width="1.2"/>
<text x="42.3" y="512.84" font-size="8" text-anchor="end" fill="#2e2e2e">20</text>
<path d="M45.9,493.38H49.2" stroke="#000" stroke-width="1.2"/>
<text x="42.3" y="496.18" font-size="8" text-anchor="end" fill="#2e2e2e">40</text>
<path d="M45.9,476.73H49.2" stroke="#000" stroke-width="1.2"/>
<text x="42.3" y="479.53" font-size="8" text-anchor="end" fill="#2e2e2e">60</text>
<path d="M45.9,460.07H49.2" stroke="#000" stroke-width="1.2"/>
<text x="42.3" y="462.87" font-size="8" text-anchor="end" fill="#2e2e2e">80</text>
<path d="M45.9,443.41H49.2" stroke="#000" stroke-width="1.2"/>
<text x="42.3" y="446.21" font-size="8" text-anchor="end" fill="#2e2e2e">100</text>
<path d="M45.9,426.75H49.2" stroke="#000" stroke-width="1.2"/>
<text x="42.3" y="429.55" font-size="8" text-anchor="end" fill="#2e2e2e">120</text>
<path d="M45.9,410.09H49.2" stroke="#000" stroke-width="1.2"/>
<text x="42.3" y="412.89" font-size="8" text-anchor="end" fill="#2e2e2e">140</text>
<text x="0" y="0" font-size="8.5" text-anchor="middle" textLength="51" lengthAdjust="spacingAndGlyphs" transform="translate(23.3,467.2) rotate(-90)" stroke="#222" stroke-width="0.35">Cell viability (%)</text>
<path d="M49.2,526.7v3.6M73.25,526.7v3.6M97.71,526.7v3.6M122.17,526.7v3.6M146.63,526.7v3.6M171.09,526.7v3.6M195.55,526.7v3.6M220.01,526.7v3.6M244.47,526.7v3.6" stroke="#000" stroke-width="1.2"/>
<text x="0" y="0" font-size="7.9" text-anchor="end" transform="translate(76.95,536.7) rotate(-45)" stroke="#222" stroke-width="0.15">0</text>
<text x="0" y="0" font-size="7.9" text-anchor="end" transform="translate(101.41,536.7) rotate(-45)" stroke="#222" stroke-width="0.15">15.625</text>
<text x="0" y="0" font-size="7.9" text-anchor="end" transform="translate(125.87,536.7) rotate(-45)" stroke="#222" stroke-width="0.15">31.25</text>
<text x="0" y="0" font-size="7.9" text-anchor="end" transform="translate(150.33,536.7) rotate(-45)" stroke="#222" stroke-width="0.15">62.5</text>
<text x="0" y="0" font-size="7.9" text-anchor="end" transform="translate(174.79,536.7) rotate(-45)" stroke="#222" stroke-width="0.15">125</text>
<text x="0" y="0" font-size="7.9" text-anchor="end" transform="translate(199.25,536.7) rotate(-45)" stroke="#222" stroke-width="0.15">250</text>
<text x="0" y="0" font-size="7.9" text-anchor="end" transform="translate(223.71,536.7) rotate(-45)" stroke="#222" stroke-width="0.15">500</text>
<text x="0" y="0" font-size="7.9" text-anchor="end" transform="translate(248.17,536.7) rotate(-45)" stroke="#222" stroke-width="0.15">1000</text>
<path d="M73.25,562.2H244.5" stroke="#000" stroke-width="1.4"/>
<text x="158.95" y="573.4" font-size="8.7" text-anchor="middle" textLength="40.7" lengthAdjust="spacingAndGlyphs" font-weight="bold" fill="#2a2a2a">BH3I-1 (μM)</text>
<text x="182" y="404.9" font-size="6.6" text-anchor="middle" textLength="31.1" lengthAdjust="spacingAndGlyphs" fill="#1a1a1a" stroke="#222" stroke-width="0.15">(200 μM)</text>
<path d="M179.95,411.85H184.05V417.9H186.05L182,422.9L177.95,417.9H179.95Z" fill="url(#ag)" stroke="#111" stroke-width="1.05" stroke-linejoin="miter"/>
<path d="M55.8,505.6H70.2" stroke="#72112f" stroke-width="1.6"/>
<rect x="60.8" y="503.5" width="4.2" height="4.2" fill="#fff" stroke="#72112f" stroke-width="1.1"/>
<text x="73.4" y="508" font-size="8" textLength="23.8" lengthAdjust="spacingAndGlyphs" fill="#1a1a1a" stroke="#1a1a1a" stroke-width="0.15">BH3I-1</text>
<path d="M55.8,517.6H70.2" stroke="#182a48" stroke-width="1.6"/>
<circle cx="62.9" cy="517.6" r="2.3" fill="#fff" stroke="#182a48" stroke-width="1.1"/>
<text x="73.4" y="520" font-size="8" textLength="61.9" lengthAdjust="spacingAndGlyphs" fill="#1a1a1a" stroke="#1a1a1a" stroke-width="0.15">IBR+VEN+BH3I-1</text>
<path d="M73.25,443.25 C76.31,442.96 91.6,441.49 97.71,440.9 C103.83,440.31 116.06,440.07 122.17,438.5 C128.28,436.93 140.51,430.8 146.63,428.3 C152.75,425.8 164.97,413.54 171.09,418.5 C177.21,423.46 189.44,458.69 195.55,468 C201.67,477.31 213.89,487.75 220.01,493 C226.12,498.25 241.41,507.88 244.47,510" stroke="#72112f" stroke-width="1.6" fill="none"/>
<path d="M195.55,462V473.75M193.65,462h3.8M193.65,473.75h3.8" stroke="#111" stroke-width="1.1" fill="none"/>
<path d="M220.01,476.25V500M218.11,476.25h3.8M218.11,500h3.8" stroke="#111" stroke-width="1.1" fill="none"/>
<rect x="71.25" y="441.25" width="4" height="4" fill="#fff" stroke="#3a1c34" stroke-width="1.2"/>
<rect x="95.71" y="438.9" width="4" height="4" fill="#fff" stroke="#72112f" stroke-width="1.2"/>
<rect x="120.17" y="436.5" width="4" height="4" fill="#fff" stroke="#72112f" stroke-width="1.2"/>
<rect x="144.63" y="426.3" width="4" height="4" fill="#fff" stroke="#72112f" stroke-width="1.2"/>
<rect x="169.09" y="416.5" width="4" height="4" fill="#fff" stroke="#72112f" stroke-width="1.2"/>
<rect x="193.55" y="466" width="4" height="4" fill="#fff" stroke="#72112f" stroke-width="1.2"/>
<rect x="218.01" y="491" width="4" height="4" fill="#fff" stroke="#72112f" stroke-width="1.2"/>
<rect x="242.47" y="508" width="4" height="4" fill="#fff" stroke="#72112f" stroke-width="1.2"/>
<path d="M73.25,443.25 C76.31,444.48 91.6,451.56 97.71,453.1 C103.83,454.64 116.06,455.93 122.17,455.6 C128.28,455.28 140.51,448.95 146.63,450.5 C152.75,452.05 164.97,462.34 171.09,468 C177.21,473.66 189.44,491.84 195.55,495.75 C201.67,499.66 213.89,498.19 220.01,499.25 C226.12,500.31 241.41,503.62 244.47,504.25" stroke="#182a48" stroke-width="1.6" fill="none"/>
<path d="M97.71,446.4V459.3M95.81,446.4h3.8M95.81,459.3h3.8" stroke="#111" stroke-width="1.1" fill="none"/>
<path d="M122.17,447.5V463.9M120.27,447.5h3.8M120.27,463.9h3.8" stroke="#111" stroke-width="1.1" fill="none"/>
<path d="M146.63,440.5V460.7M144.73,440.5h3.8M144.73,460.7h3.8" stroke="#111" stroke-width="1.1" fill="none"/>
<path d="M171.09,459.5V477.5M169.19,459.5h3.8M169.19,477.5h3.8" stroke="#111" stroke-width="1.1" fill="none"/>
<path d="M195.55,485.75V505.5M193.65,485.75h3.8M193.65,505.5h3.8" stroke="#111" stroke-width="1.1" fill="none"/>
<path d="M220.01,495V508.25M218.11,495h3.8M218.11,508.25h3.8" stroke="#111" stroke-width="1.1" fill="none"/>
<path d="M244.47,498.75V508.75M242.57,498.75h3.8M242.57,508.75h3.8" stroke="#111" stroke-width="1.1" fill="none"/>
<circle cx="73.25" cy="443.25" r="1.7" fill="#fff" stroke="#182a48" stroke-width="1.2"/>
<circle cx="97.71" cy="453.1" r="1.7" fill="#fff" stroke="#182a48" stroke-width="1.2"/>
<circle cx="122.17" cy="455.6" r="1.7" fill="#fff" stroke="#182a48" stroke-width="1.2"/>
<circle cx="146.63" cy="450.5" r="1.7" fill="#fff" stroke="#182a48" stroke-width="1.2"/>
<circle cx="171.09" cy="468" r="1.7" fill="#fff" stroke="#182a48" stroke-width="1.2"/>
<circle cx="195.55" cy="495.75" r="1.7" fill="#fff" stroke="#182a48" stroke-width="1.2"/>
<circle cx="220.01" cy="499.25" r="1.7" fill="#fff" stroke="#182a48" stroke-width="1.2"/>
<circle cx="244.47" cy="504.25" r="1.7" fill="#fff" stroke="#182a48" stroke-width="1.2"/>
<text x="269.9" y="400" font-size="11" font-weight="bold" fill="#000" stroke="#000" stroke-width="0.35">F</text>
<path d="M310.4,404V527H497" stroke="#000" stroke-width="1.35" fill="none"/>
<path d="M307.1,527H310.4" stroke="#000" stroke-width="1.2"/>
<text x="303.6" y="529.8" font-size="7.9" text-anchor="end" fill="#2e2e2e">0</text>
<path d="M307.1,504.7H310.4" stroke="#000" stroke-width="1.2"/>
<text x="303.6" y="507.5" font-size="7.9" text-anchor="end" fill="#2e2e2e">20</text>
<path d="M307.1,482.4H310.4" stroke="#000" stroke-width="1.2"/>
<text x="303.6" y="485.2" font-size="7.9" text-anchor="end" fill="#2e2e2e">40</text>
<path d="M307.1,460.1H310.4" stroke="#000" stroke-width="1.2"/>
<text x="303.6" y="462.9" font-size="7.9" text-anchor="end" fill="#2e2e2e">60</text>
<path d="M307.1,437.8H310.4" stroke="#000" stroke-width="1.2"/>
<text x="303.6" y="440.6" font-size="7.9" text-anchor="end" fill="#2e2e2e">80</text>
<path d="M307.1,415.5H310.4" stroke="#000" stroke-width="1.2"/>
<text x="303.6" y="418.3" font-size="7.9" text-anchor="end" fill="#2e2e2e">100</text>
<text x="0" y="0" font-size="8.5" text-anchor="middle" textLength="50.5" lengthAdjust="spacingAndGlyphs" transform="translate(284.8,465.7) rotate(-90)" stroke="#222" stroke-width="0.35">Cell viability (%)</text>
<path d="M310.4,527v3.6M333,527v3.6M356.07,527v3.6M379.14,527v3.6M402.21,527v3.6M425.28,527v3.6M448.35,527v3.6M471.42,527v3.6M494.49,527v3.6" stroke="#000" stroke-width="1.2"/>
<text x="0" y="0" font-size="7.9" text-anchor="end" transform="translate(336.7,537) rotate(-45)" stroke="#222" stroke-width="0.15">0</text>
<text x="0" y="0" font-size="7.9" text-anchor="end" transform="translate(359.77,537) rotate(-45)" stroke="#222" stroke-width="0.15">0.0012</text>
<text x="0" y="0" font-size="7.9" text-anchor="end" transform="translate(382.84,537) rotate(-45)" stroke="#222" stroke-width="0.15">0.003</text>
<text x="0" y="0" font-size="7.9" text-anchor="end" transform="translate(405.91,537) rotate(-45)" stroke="#222" stroke-width="0.15">0.011</text>
<text x="0" y="0" font-size="7.9" text-anchor="end" transform="translate(428.98,537) rotate(-45)" stroke="#222" stroke-width="0.15">0.033</text>
<text x="0" y="0" font-size="7.9" text-anchor="end" transform="translate(452.05,537) rotate(-45)" stroke="#222" stroke-width="0.15">0.099</text>
<text x="0" y="0" font-size="7.9" text-anchor="end" transform="translate(475.12,537) rotate(-45)" stroke="#222" stroke-width="0.15">0.297</text>
<text x="0" y="0" font-size="7.9" text-anchor="end" transform="translate(498.19,537) rotate(-45)" stroke="#222" stroke-width="0.15">0.891</text>
<path d="M333.25,562H494.5" stroke="#000" stroke-width="1.4"/>
<text x="413.65" y="573.4" font-size="8.7" text-anchor="middle" textLength="40.1" lengthAdjust="spacingAndGlyphs" font-weight="bold" fill="#2a2a2a">YM155 (μM)</text>
<text x="402.2" y="409.3" font-size="6.6" text-anchor="middle" textLength="37" lengthAdjust="spacingAndGlyphs" fill="#1a1a1a" stroke="#222" stroke-width="0.15">(0.011 μM)</text>
<path d="M400.45,415.35H404.15V421.8H406.35L402.3,426.3L398.25,421.8H400.45Z" fill="url(#ag)" stroke="#111" stroke-width="1.05" stroke-linejoin="miter"/>
<path d="M316.7,505.5H331.2" stroke="#72112f" stroke-width="1.6"/>
<rect x="321.8" y="503.4" width="4.2" height="4.2" fill="#fff" stroke="#72112f" stroke-width="1.1"/>
<text x="334.8" y="507.9" font-size="8" textLength="25.5" lengthAdjust="spacingAndGlyphs" fill="#1a1a1a" stroke="#1a1a1a" stroke-width="0.15">YM155</text>
<path d="M316.7,517.1H331.2" stroke="#182a48" stroke-width="1.6"/>
<circle cx="323.9" cy="517.1" r="2.3" fill="#fff" stroke="#182a48" stroke-width="1.1"/>
<text x="334.8" y="519.5" font-size="8" textLength="63.3" lengthAdjust="spacingAndGlyphs" fill="#1a1a1a" stroke="#1a1a1a" stroke-width="0.15">IBR+VEN+YM155</text>
<path d="M333,415.1 C340.69,416.13 348.38,416.52 356.07,418.2 C363.76,419.88 371.45,421.07 379.14,425.2 C386.83,429.33 394.52,435.2 402.21,443 C409.9,450.8 417.59,463.78 425.28,472 C432.97,480.22 440.66,487.53 448.35,492.3 C456.04,497.07 463.73,498.73 471.42,500.6 C479.11,502.47 486.8,502.53 494.49,503.5" stroke="#72112f" stroke-width="1.6" fill="none"/>
<path d="M379.14,422.2V428M377.24,422.2h3.8M377.24,428h3.8" stroke="#111" stroke-width="1.1" fill="none"/>
<path d="M402.21,430V450M400.31,430h3.8M400.31,450h3.8" stroke="#111" stroke-width="1.1" fill="none"/>
<path d="M425.28,460V478M423.38,460h3.8M423.38,478h3.8" stroke="#111" stroke-width="1.1" fill="none"/>
<rect x="331" y="413.1" width="4" height="4" fill="#fff" stroke="#3a1c34" stroke-width="1.2"/>
<rect x="354.07" y="416.2" width="4" height="4" fill="#fff" stroke="#72112f" stroke-width="1.2"/>
<rect x="377.14" y="423.2" width="4" height="4" fill="#fff" stroke="#72112f" stroke-width="1.2"/>
<rect x="400.21" y="441" width="4" height="4" fill="#fff" stroke="#72112f" stroke-width="1.2"/>
<rect x="423.28" y="470" width="4" height="4" fill="#fff" stroke="#72112f" stroke-width="1.2"/>
<rect x="446.35" y="490.3" width="4" height="4" fill="#fff" stroke="#3a1c34" stroke-width="1.2"/>
<rect x="469.42" y="498.6" width="4" height="4" fill="#fff" stroke="#72112f" stroke-width="1.2"/>
<rect x="492.49" y="501.5" width="4" height="4" fill="#fff" stroke="#72112f" stroke-width="1.2"/>
<path d="M333,415.1 C340.69,417.33 348.38,419.27 356.07,421.8 C363.76,424.33 371.45,425.06 379.14,430.3 C386.83,435.54 394.52,445.13 402.21,453.25 C409.9,461.37 417.59,472.49 425.28,479 C432.97,485.51 440.66,489.22 448.35,492.3 C456.04,495.38 463.73,496.32 471.42,497.5 C479.11,498.68 486.8,498.77 494.49,499.4" stroke="#182a48" stroke-width="1.6" fill="none"/>
<path d="M425.28,479V484.25M423.38,479h3.8M423.38,484.25h3.8" stroke="#111" stroke-width="1.1" fill="none"/>
<circle cx="333" cy="415.1" r="1.7" fill="#fff" stroke="#182a48" stroke-width="1.2"/>
<circle cx="356.07" cy="421.8" r="1.7" fill="#fff" stroke="#182a48" stroke-width="1.2"/>
<circle cx="379.14" cy="430.3" r="1.7" fill="#fff" stroke="#182a48" stroke-width="1.2"/>
<circle cx="402.21" cy="453.25" r="1.7" fill="#fff" stroke="#182a48" stroke-width="1.2"/>
<circle cx="425.28" cy="479" r="1.7" fill="#fff" stroke="#182a48" stroke-width="1.2"/>
<circle cx="448.35" cy="492.3" r="1.7" fill="#fff" stroke="#182a48" stroke-width="1.2"/>
<circle cx="471.42" cy="497.5" r="1.7" fill="#fff" stroke="#182a48" stroke-width="1.2"/>
<circle cx="494.49" cy="499.4" r="1.7" fill="#fff" stroke="#182a48" stroke-width="1.2"/>
<path d="M0,0H520V1.5H0ZM0,0H1.5V582H0ZM518.5,0H520V582H518.5ZM0,580.5H520V582H0Z" fill="#000"/>
</svg>
</body></html>
